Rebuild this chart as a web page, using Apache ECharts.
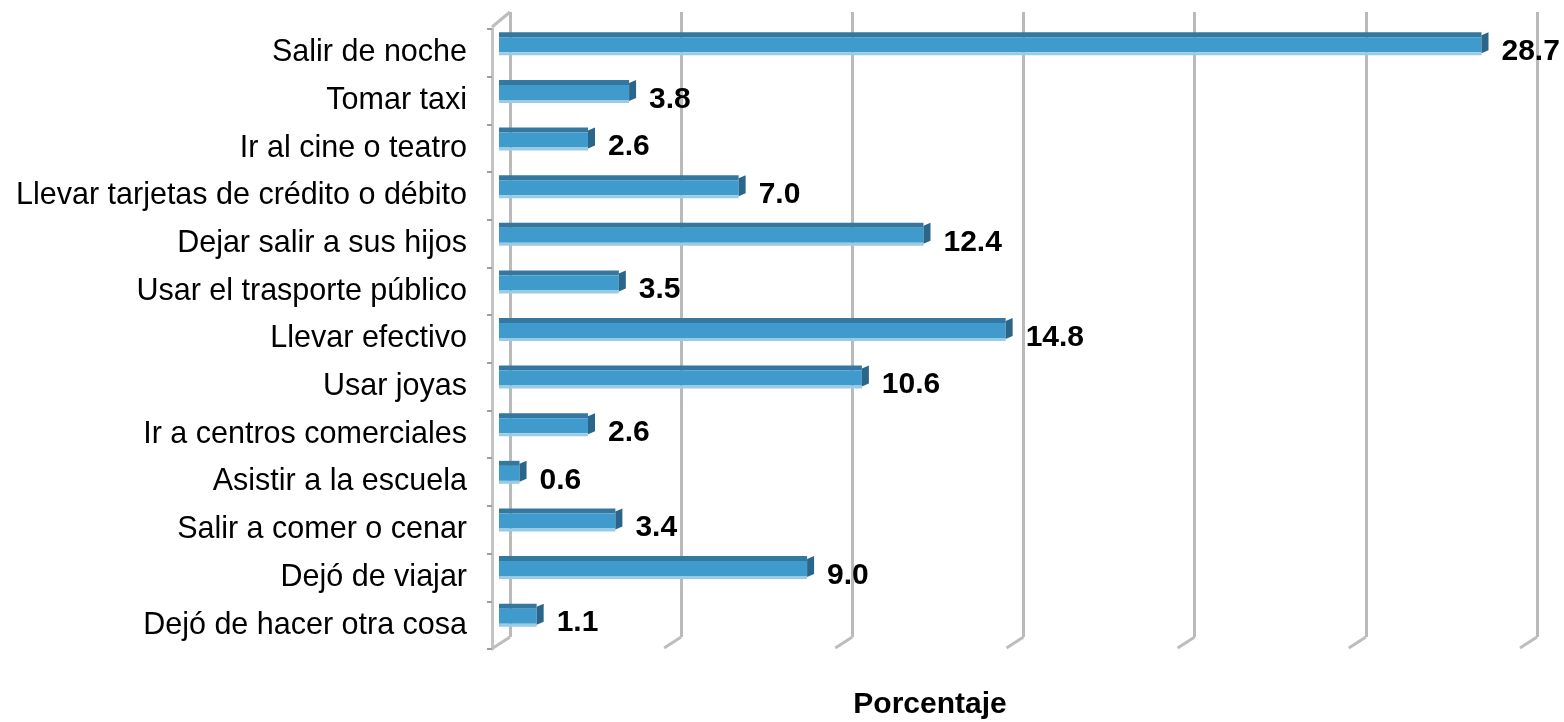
<!DOCTYPE html>
<html>
<head>
<meta charset="utf-8">
<script src="https://cdn.jsdelivr.net/npm/echarts@6/dist/echarts.min.js"></script>
<style>
  html, body {margin: 0; padding: 0; background: #fff;}
  #chart {width: 1564px; height: 722px;}
</style>
</head>
<body>
<div id="chart"></div>
<script>
var categories = ['Salir de noche', 'Tomar taxi', 'Ir al cine o teatro', 'Llevar tarjetas de crédito o débito',
  'Dejar salir a sus hijos', 'Usar el trasporte público', 'Llevar efectivo', 'Usar joyas',
  'Ir a centros comerciales', 'Asistir a la escuela', 'Salir a comer o cenar', 'Dejó de viajar',
  'Dejó de hacer otra cosa'];
var values = [28.7, 3.8, 2.6, 7.0, 12.4, 3.5, 14.8, 10.6, 2.6, 0.6, 3.4, 9.0, 1.1];
var gridTicks = [0, 5, 10, 15, 20, 25, 30];

var font = '"Liberation Sans", Arial, sans-serif';

// barra con efecto 3D (cara, borde superior, lateral) + etiqueta
function renderBar(params, api) {
  var i = api.value(0), v = api.value(1);
  var start = api.coord([0, i]);
  var end = api.coord([v, i]);
  var cy = start[1], x0 = start[0], x1 = end[0];
  var h = 23, top = cy - h / 2, w = x1 - x0;
  return {
    type: 'group',
    children: [
      {type: 'rect', shape: {x: x0, y: top, width: w, height: 5}, style: {fill: '#34779F'}},
      {type: 'rect', shape: {x: x0, y: top + 5, width: w, height: 15}, style: {fill: '#3F9BCC'}},
      {type: 'rect', shape: {x: x0, y: top + 20, width: w, height: 3}, style: {fill: '#9ACBE6'}},
      {type: 'polygon', shape: {points: [[x1, top + 3], [x1 + 7, top], [x1 + 7, top + 18], [x1, top + 21]]},
        style: {fill: '#2B6589'}},
      {type: 'text', style: {text: v.toFixed(1), x: x1 + 20, y: cy + 8, font: 'bold 30px ' + font,
        fill: '#000', verticalAlign: 'middle', align: 'left'}}
    ]
  };
}

// tramos oblicuos del suelo / esquina del muro
function renderFloor(params, api) {
  var v = api.value(0);
  var p = api.coord([v, 0]);
  var kids = [{type: 'line', shape: {x1: p[0], y1: p[1], x2: p[0] - 17, y2: p[1] + 11},
    style: {stroke: '#BDBDBD', lineWidth: 3}}];
  if (v === 0) {
    var q = api.coord([0, 1]);
    kids.push({type: 'line', shape: {x1: q[0], y1: q[1], x2: q[0] - 18, y2: q[1] + 15},
      style: {stroke: '#BDBDBD', lineWidth: 3}});
  }
  return {type: 'group', children: kids};
}

var option = {
  backgroundColor: '#fff',
  animation: false,
  grid: [
    {left: 510, right: 27, top: 12, bottom: 85, outerBoundsMode: 'none'},
    {left: 492, right: 196, top: 29, bottom: 73, outerBoundsMode: 'none'},
    {left: 499, right: 38, top: 20, bottom: 83, outerBoundsMode: 'none'}
  ],
  xAxis: [
    {
      gridIndex: 0, type: 'value', min: 0, max: 30, interval: 5,
      axisLine: {show: false}, axisTick: {show: false}, axisLabel: {show: false},
      splitLine: {show: true, lineStyle: {color: '#BABABA', width: 3}}
    },
    {
      gridIndex: 1, type: 'value', min: 0, max: 30,
      axisLine: {show: false}, axisTick: {show: false}, axisLabel: {show: false}, splitLine: {show: false},
      name: 'Porcentaje', nameLocation: 'middle', nameGap: 41,
      nameTextStyle: {fontFamily: font, fontSize: 30, fontWeight: 'bold', color: '#000'}
    },
    {
      gridIndex: 2, type: 'value', min: 0, max: 30, show: false
    }
  ],
  yAxis: [
    {gridIndex: 0, type: 'value', min: 0, max: 1, show: false},
    {
      gridIndex: 1, type: 'category', inverse: true, data: categories,
      axisLine: {show: true, lineStyle: {color: '#C4C4C4', width: 3}},
      axisTick: {show: true, length: 5, lineStyle: {color: '#9E9E9E', width: 2}},
      axisLabel: {margin: 25, fontFamily: font, fontSize: 30.5, color: '#000'}
    },
    {gridIndex: 2, type: 'category', inverse: true, data: categories, show: false}
  ],
  series: [
    {
      type: 'custom', xAxisIndex: 0, yAxisIndex: 0,
      data: gridTicks.map(function (t) { return [t]; }),
      renderItem: renderFloor, silent: true
    },
    {
      type: 'custom', xAxisIndex: 2, yAxisIndex: 2,
      data: values.map(function (v, i) { return [i, v]; }),
      encode: {x: 1, y: 0},
      renderItem: renderBar
    }
  ]
};

var chart = echarts.init(document.getElementById('chart'));
chart.setOption(option);
</script>
</body>
</html>
